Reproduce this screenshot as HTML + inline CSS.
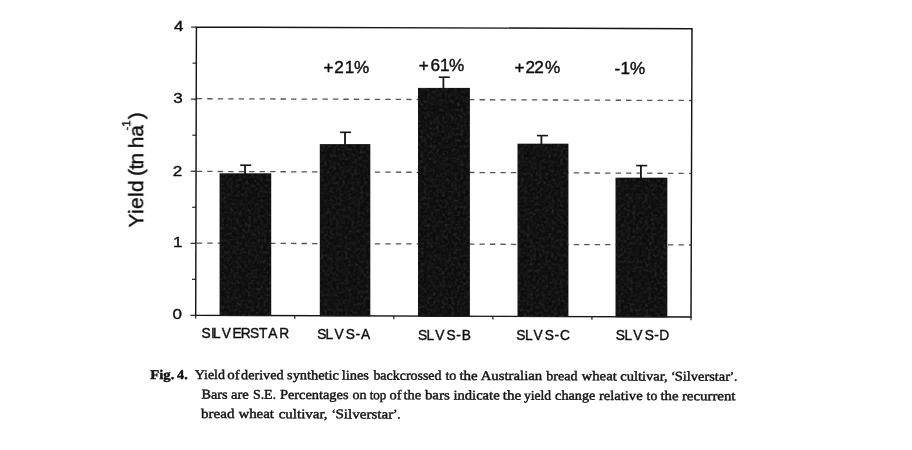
<!DOCTYPE html>
<html lang="en"><head><meta charset="utf-8"><title>Fig. 4</title>
<style>html,body{margin:0;padding:0;background:#fff}body{width:912px;height:450px;overflow:hidden}svg{display:block}</style></head>
<body>
<svg width="912" height="450" viewBox="0 0 912 450">
<defs><filter id="b" x="-5%" y="-5%" width="110%" height="110%"><feGaussianBlur stdDeviation="0.4"/></filter><filter id="n" x="0" y="0" width="100%" height="100%"><feTurbulence type="fractalNoise" baseFrequency="0.33" numOctaves="2" seed="7"/><feColorMatrix type="matrix" values="0 0 0 0 1  0 0 0 0 1  0 0 0 0 1  0.9 0.9 0 0 -0.76"/><feGaussianBlur stdDeviation="0.5"/></filter><filter id="b2" x="-5%" y="-5%" width="110%" height="110%"><feGaussianBlur stdDeviation="0.35"/></filter></defs>
<rect width="912" height="450" fill="#fff"/>
<g filter="url(#b)">
<line x1="196.8" y1="243.1" x2="691" y2="245.0" stroke="#555" stroke-width="1.3" stroke-dasharray="5.4 5.07"/>
<line x1="196.8" y1="171.4" x2="691" y2="173.4" stroke="#555" stroke-width="1.3" stroke-dasharray="5.4 5.07"/>
<line x1="196.8" y1="98.7" x2="691" y2="100.5" stroke="#555" stroke-width="1.3" stroke-dasharray="5.4 5.07"/>
<rect x="219.6" y="173.3" width="51.6" height="142.67" fill="#0e0e0e"/>
<line x1="245.0" y1="165.2" x2="245.0" y2="174.3" stroke="#141414" stroke-width="1.8"/>
<line x1="240.20" y1="165.2" x2="251.20" y2="165.2" stroke="#141414" stroke-width="1.6"/>
<rect x="319.8" y="144.1" width="50.5" height="172.21" fill="#0e0e0e"/>
<line x1="345.0" y1="132.3" x2="345.0" y2="145.1" stroke="#141414" stroke-width="1.8"/>
<line x1="340.10" y1="132.3" x2="351.10" y2="132.3" stroke="#141414" stroke-width="1.6"/>
<rect x="418.0" y="87.9" width="51.9" height="228.75" fill="#0e0e0e"/>
<line x1="443.4" y1="77.2" x2="443.4" y2="88.9" stroke="#141414" stroke-width="1.8"/>
<line x1="438.80" y1="77.2" x2="449.80" y2="77.2" stroke="#141414" stroke-width="1.6"/>
<rect x="517.5" y="143.7" width="50.9" height="173.29" fill="#0e0e0e"/>
<line x1="541.4" y1="135.6" x2="541.4" y2="144.7" stroke="#141414" stroke-width="1.8"/>
<line x1="536.90" y1="135.6" x2="547.90" y2="135.6" stroke="#141414" stroke-width="1.6"/>
<rect x="615.5" y="177.7" width="51.8" height="139.63" fill="#0e0e0e"/>
<line x1="640.9" y1="165.6" x2="640.9" y2="178.7" stroke="#141414" stroke-width="1.8"/>
<line x1="636.25" y1="165.6" x2="647.25" y2="165.6" stroke="#141414" stroke-width="1.6"/>
<path d="M196.4 27.1 L692.0 28.7 L691.0 317.0 L195.7 315.3 Z" fill="none" stroke="#141414" stroke-width="1.45"/>
<line x1="190.40" y1="315.30" x2="195.70" y2="315.30" stroke="#141414" stroke-width="1.1"/>
<line x1="191.99" y1="279.28" x2="195.79" y2="279.28" stroke="#141414" stroke-width="1.1"/>
<line x1="190.57" y1="243.25" x2="195.88" y2="243.25" stroke="#141414" stroke-width="1.1"/>
<line x1="192.16" y1="207.23" x2="195.96" y2="207.23" stroke="#141414" stroke-width="1.1"/>
<line x1="190.75" y1="171.20" x2="196.05" y2="171.20" stroke="#141414" stroke-width="1.1"/>
<line x1="192.34" y1="135.18" x2="196.14" y2="135.18" stroke="#141414" stroke-width="1.1"/>
<line x1="190.92" y1="99.15" x2="196.22" y2="99.15" stroke="#141414" stroke-width="1.1"/>
<line x1="192.51" y1="63.13" x2="196.31" y2="63.13" stroke="#141414" stroke-width="1.1"/>
<line x1="191.10" y1="27.10" x2="196.40" y2="27.10" stroke="#141414" stroke-width="1.1"/>
<line x1="195.70" y1="315.30" x2="195.70" y2="318.50" stroke="#141414" stroke-width="1.1"/>
<line x1="294.76" y1="315.64" x2="294.76" y2="318.84" stroke="#141414" stroke-width="1.1"/>
<line x1="393.82" y1="315.98" x2="393.82" y2="319.18" stroke="#141414" stroke-width="1.1"/>
<line x1="492.88" y1="316.32" x2="492.88" y2="319.52" stroke="#141414" stroke-width="1.1"/>
<line x1="591.94" y1="316.66" x2="591.94" y2="319.86" stroke="#141414" stroke-width="1.1"/>
<line x1="691.00" y1="317.00" x2="691.00" y2="320.20" stroke="#141414" stroke-width="1.1"/>
</g>
<rect x="220.4" y="174.1" width="50.0" height="140.97" fill="#fff" filter="url(#n)" opacity="0.17"/>
<rect x="320.6" y="144.9" width="48.9" height="170.51" fill="#fff" filter="url(#n)" opacity="0.17"/>
<rect x="418.8" y="88.7" width="50.3" height="227.05" fill="#fff" filter="url(#n)" opacity="0.17"/>
<rect x="518.3" y="144.5" width="49.3" height="171.59" fill="#fff" filter="url(#n)" opacity="0.17"/>
<rect x="616.3" y="178.5" width="50.2" height="137.93" fill="#fff" filter="url(#n)" opacity="0.17"/>
<g filter="url(#b2)" fill="#101010" stroke="#101010" stroke-width="0.4" font-family="'Liberation Sans', Arial, Helvetica, sans-serif">
<text transform="scale(1.1,1)" x="158.10" y="30.900000000000002" font-size="15.5">4</text>
<text transform="scale(1.1,1)" x="157.59" y="102.6" font-size="15.5">3</text>
<text transform="scale(1.1,1)" x="156.95" y="175.9" font-size="15.5">2</text>
<text transform="scale(1.1,1)" x="157.27" y="247.2" font-size="15.5">1</text>
<text transform="scale(1.1,1)" x="156.85" y="319.3" font-size="15.5">0</text>
<text transform="scale(1.1,1)" x="294.06 303.94 313.45 321.81" y="72.6" font-size="15.6">+21%</text>
<text transform="scale(1.1,1)" x="380.78 391.39 400.08 408.26" y="70.8" font-size="15.6">+61%</text>
<text transform="scale(1.1,1)" x="467.78 477.67 485.76 495.53" y="73.4" font-size="15.6">+22%</text>
<text transform="scale(1.1,1)" x="558.58 563.99 572.72" y="73.8" font-size="15.6">-1%</text>
<text transform="scale(0.97,1)" x="207.71 217.45 219.66 228.70 239.76 248.32 257.81 266.90 276.57 287.80" y="338.5" font-size="14.2">SILVERSTAR</text>
<text transform="scale(0.97,1)" x="326.98 335.54 344.78 356.37 366.59 372.24" y="338.9" font-size="14.2">SLVS-A</text>
<text transform="scale(0.97,1)" x="431.00 439.76 448.60 460.39 470.30 476.15" y="339.6" font-size="14.2">SLVS-B</text>
<text transform="scale(0.97,1)" x="532.34 541.21 549.94 561.73 571.64 577.42" y="340.0" font-size="14.2">SLVS-C</text>
<text transform="scale(0.97,1)" x="634.92 643.89 652.72 664.61 674.52 679.66" y="340.3" font-size="14.2">SLVS-D</text>
<text transform="translate(143.2 228) rotate(-90)" font-size="20.9" y="0"><tspan x="0.44" letter-spacing="0.35">Yield </tspan><tspan x="52.1">(</tspan><tspan x="58.4">t</tspan><tspan x="63.4">n </tspan><tspan x="79.8">h</tspan><tspan x="91.3">a</tspan><tspan x="97.4" dy="-13" font-size="11.5">-1</tspan><tspan x="108.7" dy="13">)</tspan></text>
</g>
<g filter="url(#b2)" fill="#131313" stroke="#131313" stroke-width="0.42" font-family="'Liberation Serif', 'Times New Roman', Times, serif" font-size="13.3">
<text transform="rotate(0.189 150 378.9)" y="378.9" font-weight="bold"><tspan x="150.3" textLength="24.1" lengthAdjust="spacingAndGlyphs">Fig.</tspan> <tspan x="177.1" textLength="10.7" lengthAdjust="spacingAndGlyphs">4.</tspan></text>
<text transform="rotate(0.189 195 379.0)" y="379.0"><tspan x="194.7" textLength="30.3" lengthAdjust="spacingAndGlyphs">Yield</tspan> <tspan x="227.2" textLength="12.4" lengthAdjust="spacingAndGlyphs">of</tspan> <tspan x="241.1" textLength="42.4" lengthAdjust="spacingAndGlyphs">derived</tspan> <tspan x="287.1" textLength="51.9" lengthAdjust="spacingAndGlyphs">synthetic</tspan> <tspan x="341.7" textLength="27.3" lengthAdjust="spacingAndGlyphs">lines</tspan> <tspan x="373.4" textLength="68.1" lengthAdjust="spacingAndGlyphs">backcrossed</tspan> <tspan x="445.4" textLength="10.9" lengthAdjust="spacingAndGlyphs">to</tspan> <tspan x="459.4" textLength="18.3" lengthAdjust="spacingAndGlyphs">the</tspan> <tspan x="480.7" textLength="61.5" lengthAdjust="spacingAndGlyphs">Australian</tspan> <tspan x="546.3" textLength="31.1" lengthAdjust="spacingAndGlyphs">bread</tspan> <tspan x="581.6" textLength="35.2" lengthAdjust="spacingAndGlyphs">wheat</tspan> <tspan x="620.2" textLength="47.4" lengthAdjust="spacingAndGlyphs">cultivar,</tspan> <tspan x="670.9">‘</tspan><tspan x="674.8" textLength="55.2" lengthAdjust="spacingAndGlyphs">Silverstar</tspan><tspan x="729.7">’.</tspan></text>
<text transform="rotate(0.189 201 398.6)" y="398.6"><tspan x="201.4" textLength="26.1" lengthAdjust="spacingAndGlyphs">Bars</tspan> <tspan x="231.0" textLength="17.7" lengthAdjust="spacingAndGlyphs">are</tspan> <tspan x="252.9" textLength="23.2" lengthAdjust="spacingAndGlyphs">S.E.</tspan> <tspan x="279.9" textLength="68.6" lengthAdjust="spacingAndGlyphs">Percentages</tspan> <tspan x="352.6" textLength="14.0" lengthAdjust="spacingAndGlyphs">on</tspan> <tspan x="369.7" textLength="16.6" lengthAdjust="spacingAndGlyphs">top</tspan> <tspan x="389.6" textLength="12.0" lengthAdjust="spacingAndGlyphs">of</tspan> <tspan x="403.6" textLength="17.7" lengthAdjust="spacingAndGlyphs">the</tspan> <tspan x="424.9" textLength="24.9" lengthAdjust="spacingAndGlyphs">bars</tspan> <tspan x="453.5" textLength="46.1" lengthAdjust="spacingAndGlyphs">indicate</tspan> <tspan x="502.7" textLength="18.5" lengthAdjust="spacingAndGlyphs">the</tspan> <tspan x="523.9" textLength="27.2" lengthAdjust="spacingAndGlyphs">yield</tspan> <tspan x="555.1" textLength="40.2" lengthAdjust="spacingAndGlyphs">change</tspan> <tspan x="599.0" textLength="43.6" lengthAdjust="spacingAndGlyphs">relative</tspan> <tspan x="646.6" textLength="10.6" lengthAdjust="spacingAndGlyphs">to</tspan> <tspan x="660.5" textLength="18.0" lengthAdjust="spacingAndGlyphs">the</tspan> <tspan x="681.9" textLength="53.6" lengthAdjust="spacingAndGlyphs">recurrent</tspan></text>
<text transform="rotate(0.189 201 417.9)" y="417.9"><tspan x="201.1" textLength="33.4" lengthAdjust="spacingAndGlyphs">bread</tspan> <tspan x="238.4" textLength="35.6" lengthAdjust="spacingAndGlyphs">wheat</tspan> <tspan x="278.7" textLength="48.9" lengthAdjust="spacingAndGlyphs">cultivar,</tspan> <tspan x="331.4">‘</tspan><tspan x="335.4" textLength="57.8" lengthAdjust="spacingAndGlyphs">Silverstar</tspan><tspan x="392.9">’.</tspan></text>
</g>
</svg>
</body></html>
